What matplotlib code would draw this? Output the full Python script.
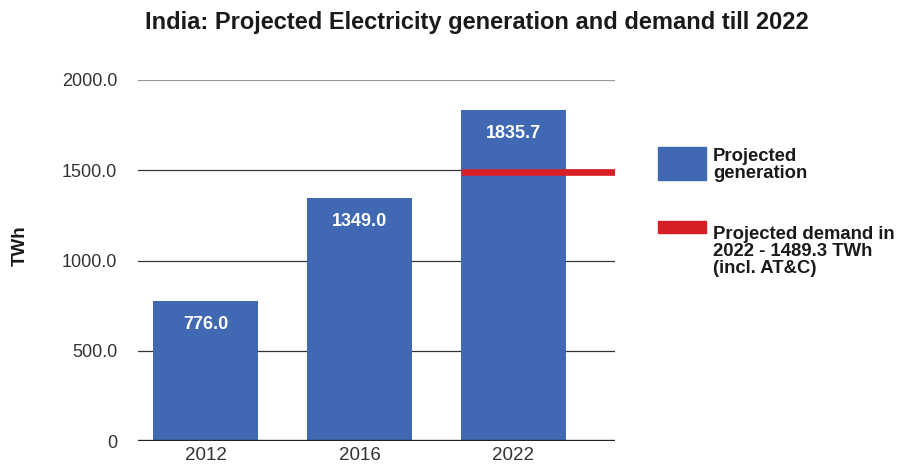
import matplotlib
matplotlib.use("Agg")
import matplotlib.pyplot as plt
from matplotlib.patches import Rectangle

plt.rcParams['font.family'] = ['Liberation Sans', 'DejaVu Sans']

years = ["2012", "2016", "2022"]
generation = [776.0, 1349.0, 1835.7]
demand_2022 = 1489.3
yticks = [0, 500, 1000, 1500, 2000]
title = "India: Projected Electricity generation and demand till 2022"
legend_gen = "Projected\ngeneration"
legend_dem = "Projected demand in\n2022 - 1489.3 TWh\n(incl. AT&C)"

BLUE = "#4169B3"
RED = "#D71F27"
W, H = 899, 470

fig = plt.figure(figsize=(W / 100, H / 100), dpi=100)
ax = fig.add_axes([138 / W, 1 - 441 / H, (615 - 138) / W, (441 - 80) / H])

x = list(range(len(years)))
bw = 0.68
ax.bar(x, generation, width=bw, color=BLUE, zorder=2)
ax.set_xlim(-0.44, 2.66)
ax.set_ylim(0, 2000)

# gridlines
for v in yticks[1:]:
    ax.axhline(v, color="#999999" if v == 2000 else "#333333", lw=0.9, zorder=1)
ax.axhline(0, color="#222222", lw=2.4, zorder=3)

# demand line from 2022 bar left edge to right edge of plot
ax.hlines(demand_2022, x[2] - bw / 2, ax.get_xlim()[1], color=RED, lw=4.8, zorder=4)

for xi, v in zip(x, generation):
    ax.annotate(f"{v:.1f}", (xi, v), xytext=(0, -17), textcoords="offset points",
                ha="center", va="center", color="white", fontsize=13,
                fontweight="bold", zorder=5)

for s in ax.spines.values():
    s.set_visible(False)
ax.set_yticks(yticks)
ax.set_yticklabels(["0" if v == 0 else f"{v:.1f}" for v in yticks])
ax.set_xticks(x)
ax.set_xticklabels(years)
ax.tick_params(axis="both", length=0, labelcolor="#333333")
ax.tick_params(axis="y", pad=15, labelsize=13)
ax.tick_params(axis="x", pad=4, labelsize=13.5)

fig.text(20 / W, 1 - 246 / H, "TWh", rotation=90, ha="center", va="center",
         fontsize=13.5, fontweight="bold", color="#1a1a1a")
fig.text(477 / W, 1 - 22 / H, title, ha="center", va="center",
         fontsize=17, fontweight="bold", color="#1a1a1a")

# legend (drawn manually)
fig.patches.append(Rectangle((658 / W, 1 - 180 / H), 48 / W, 33 / H,
                             transform=fig.transFigure, color=BLUE))
fig.patches.append(Rectangle((658 / W, 1 - 233 / H), 48 / W, 12 / H,
                             transform=fig.transFigure, color=RED))
fig.text(713 / W, 1 - 148 / H, legend_gen, ha="left", va="top", fontsize=13.3,
         fontweight="bold", color="#1a1a1a", linespacing=1.0)
fig.text(713 / W, 1 - 226 / H, legend_dem, ha="left", va="top", fontsize=13.3,
         fontweight="bold", color="#1a1a1a", linespacing=1.0)

fig.savefig("out.png", dpi=100)
